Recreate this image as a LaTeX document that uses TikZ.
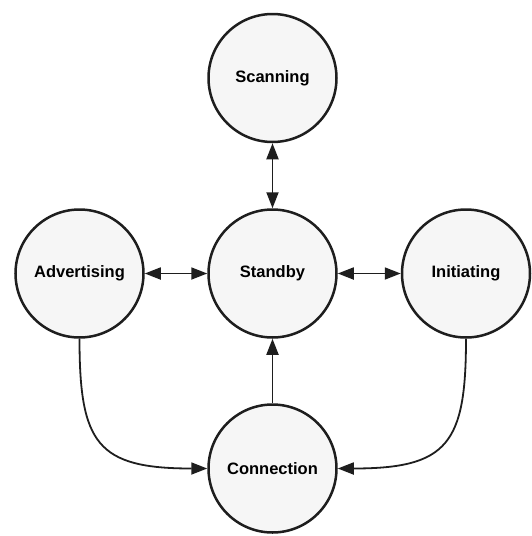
\documentclass[tikz,border=0pt]{standalone}
\usepackage{fontspec}
\setmainfont{Liberation Sans}
\usetikzlibrary{arrows.meta}
\definecolor{ink}{HTML}{1E1E1E}
\definecolor{statefill}{HTML}{F6F6F6}
\tikzset{
  state/.style={circle, draw=ink, fill=statefill, line width=2.5pt,
    minimum size=128pt, inner sep=0pt,
    font=\fontsize{16.5pt}{18pt}\selectfont\bfseries, text=black},
  link/.style={draw=ink, line width=1.8pt,
    -{Triangle[length=16pt,width=12pt]}},
  bilink/.style={link, {Triangle[length=16pt,width=12pt]}-{Triangle[length=16pt,width=12pt]}}
}
\begin{document}
\begin{tikzpicture}[x=1pt,y=-1pt]
  \useasboundingbox (0,0) rectangle (531,536);
  \node[state] (scan) at (272.5,78) {Scanning};
  \node[state] (stby) at (272.5,273.5) {Standby};
  \node[state] (adv)  at (79.5,273.5) {Advertising};
  \node[state] (init) at (466,273.5) {Initiating};
  \node[state] (conn) at (272.5,468.5) {Connection};

  \draw[bilink] (scan.south) -- (stby.north);
  \draw[bilink] (adv.east) -- (stby.west);
  \draw[bilink] (stby.east) -- (init.west);
  \draw[link] (conn.north) -- (stby.south);
  \draw[link] (adv.south) .. controls +(0,105) and +(-110,0) .. (conn.west);
  \draw[link] (init.south) .. controls +(0,105) and +(110,0) .. (conn.east);
\end{tikzpicture}
\end{document}
